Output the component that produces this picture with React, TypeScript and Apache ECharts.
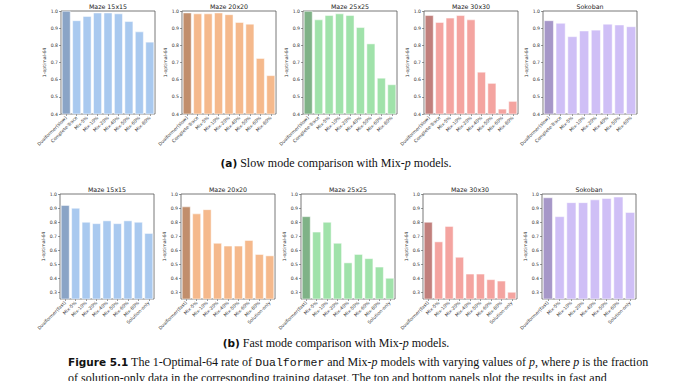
import React, { useEffect, useRef } from "react";
import * as echarts from "echarts";

// ---------- data ----------
const slowMazeCats = ["Dualformer(slow)", "Complete-Trace", "Mix-5%", "Mix-10%", "Mix-20%", "Mix-40%", "Mix-50%", "Mix-60%", "Mix-80%"];
const slowSokoCats = ["Dualformer(slow)", "Complete-Trace", "Mix-5%", "Mix-10%", "Mix-20%", "Mix-40%", "Mix-50%", "Mix-60%"];
const fastMazeCats = ["Dualformer(fast)", "Mix-5%", "Mix-10%", "Mix-20%", "Mix-40%", "Mix-50%", "Mix-60%", "Mix-80%", "Solution-only"];
const fastSokoCats = ["Dualformer(fast)", "Mix-5%", "Mix-10%", "Mix-20%", "Mix-40%", "Mix-50%", "Mix-60%", "Solution-only"];

const slowMaze15 = [1.0, 0.945, 0.97, 0.99, 0.99, 0.985, 0.94, 0.88, 0.82];
const slowMaze20 = [0.99, 0.985, 0.985, 0.99, 0.98, 0.935, 0.925, 0.725, 0.625];
const slowMaze25 = [1.0, 0.95, 0.975, 0.985, 0.975, 0.905, 0.81, 0.61, 0.572];
const slowMaze30 = [0.975, 0.935, 0.96, 0.975, 0.95, 0.645, 0.58, 0.43, 0.475];
const slowSokoban = [0.945, 0.93, 0.852, 0.885, 0.89, 0.925, 0.92, 0.91];

const fastMaze15 = [0.92, 0.9, 0.8, 0.79, 0.81, 0.79, 0.81, 0.8, 0.72];
const fastMaze20 = [0.91, 0.86, 0.89, 0.65, 0.63, 0.63, 0.67, 0.57, 0.56];
const fastMaze25 = [0.84, 0.73, 0.8, 0.65, 0.51, 0.57, 0.54, 0.48, 0.4];
const fastMaze30 = [0.8, 0.66, 0.77, 0.55, 0.43, 0.43, 0.39, 0.38, 0.3];
const fastSokoban = [0.975, 0.84, 0.94, 0.94, 0.96, 0.97, 0.98, 0.87];

const titles = ["Maze 15x15", "Maze 20x20", "Maze 25x25", "Maze 30x30", "Sokoban"];
const slowTicks = [0.4, 0.5, 0.6, 0.7, 0.8, 0.9, 1.0];
const fastTicks = [0.3, 0.4, 0.5, 0.6, 0.7, 0.8, 0.9, 1.0];

// ---------- styling ----------
const barColors = ["#a9c9ef", "#f5b98c", "#a0e2aa", "#f4a4a0", "#cfbff6"];
const firstColors = ["#8aa4c6", "#c18e6c", "#7fb287", "#c17f7c", "#a697c8"];
const topLefts = [61, 182, 303, 424, 543];
const botLefts = [60, 181, 301, 423, 542];
const W = 94;

const App: React.FC = () => {
  const ref = useRef<HTMLDivElement>(null);
  useEffect(() => {
    if (!ref.current) return;
    const chart = echarts.init(ref.current, undefined, { renderer: "svg" });
    const grids: any[] = [];
    const xAxes: any[] = [];
    const yAxes: any[] = [];
    const series: any[] = [];
    const graphics: any[] = [];
    const panels = [
      { cats: slowMazeCats, vals: slowMaze15, row: 0, col: 0 },
      { cats: slowMazeCats, vals: slowMaze20, row: 0, col: 1 },
      { cats: slowMazeCats, vals: slowMaze25, row: 0, col: 2 },
      { cats: slowMazeCats, vals: slowMaze30, row: 0, col: 3 },
      { cats: slowSokoCats, vals: slowSokoban, row: 0, col: 4 },
      { cats: fastMazeCats, vals: fastMaze15, row: 1, col: 0 },
      { cats: fastMazeCats, vals: fastMaze20, row: 1, col: 1 },
      { cats: fastMazeCats, vals: fastMaze25, row: 1, col: 2 },
      { cats: fastMazeCats, vals: fastMaze30, row: 1, col: 3 },
      { cats: fastSokoCats, vals: fastSokoban, row: 1, col: 4 },
    ];
    const font = "DejaVu Sans";
    panels.forEach((p, i) => {
      const left = p.row === 0 ? topLefts[p.col] : botLefts[p.col];
      const top = p.row === 0 ? 11 : 194;
      const height = p.row === 0 ? 103 : 105;
      grids.push({
        left, top, width: W, height,
        show: true, borderColor: "#555", borderWidth: 0.8, backgroundColor: "transparent",
      });
      xAxes.push({
        type: "category", gridIndex: i, data: p.cats,
        axisLine: { show: false },
        axisTick: { show: true, alignWithLabel: true, length: 2, lineStyle: { color: "#555", width: 0.6 } },
        axisLabel: { interval: 0, rotate: 45, fontSize: 4.6, fontFamily: font, color: "#333", margin: 3 },
      });
      const ticks = p.row === 0 ? slowTicks : fastTicks;
      yAxes.push({
        type: "value", gridIndex: i,
        min: p.row === 0 ? 0.4 : 0.25, max: 1.0,
        axisLine: { show: false },
        splitLine: { show: false },
        axisTick: { show: true, length: 2, customValues: ticks, lineStyle: { color: "#555", width: 0.6 } },
        axisLabel: {
          customValues: ticks, fontSize: 4.6, fontFamily: font, color: "#333", margin: 3,
          formatter: (v: number) => v.toFixed(1),
        },
        name: "1-optimal-64", nameLocation: "middle", nameRotate: 90, nameGap: 12,
        nameTextStyle: { fontSize: 4.6, fontFamily: font, color: "#333" },
      });
      const c = barColors[p.col];
      const fc = firstColors[p.col];
      series.push({
        type: "bar", xAxisIndex: i, yAxisIndex: i,
        data: p.vals.map((v, k) => ({ value: v, itemStyle: { color: k === 0 ? fc : c } })),
        barCategoryGap: "18%",
        itemStyle: { borderColor: "#ffffff", borderWidth: 0.5 },
      });
      graphics.push({
        type: "text", x: left + W / 2, y: top - 1.5,
        style: {
          text: titles[p.col], fontSize: 6.3, fontFamily: font, fill: "#222",
          textAlign: "center", textVerticalAlign: "bottom",
        },
      });
    });

    const serif = "Liberation Serif";
    const rich = {
      b: { fontFamily: "DejaVu Sans", fontWeight: "bold", fontSize: 10.5, fill: "#111", color: "#111" },
      i: { fontFamily: serif, fontStyle: "italic", fontSize: 12, color: "#111" },
      m: { fontFamily: "Liberation Mono", fontSize: 11.5, color: "#111" },
    };
    graphics.push({
      type: "text", x: 336, y: 163,
      style: {
        text: "{b|(a)} Slow mode comparison with Mix-{i|p} models.",
        fontFamily: serif, fontSize: 12, fill: "#111",
        textAlign: "center", textVerticalAlign: "middle", rich,
      },
    });
    graphics.push({
      type: "text", x: 336, y: 343,
      style: {
        text: "{b|(b)} Fast mode comparison with Mix-{i|p} models.",
        fontFamily: serif, fontSize: 12, fill: "#111",
        textAlign: "center", textVerticalAlign: "middle", rich,
      },
    });
    graphics.push({
      type: "text", x: 68, y: 362,
      style: {
        text: "{b|Figure 5.1} The 1-Optimal-64 rate of {m|Dualformer} and Mix-{i|p} models with varying values of {i|p}, where {i|p} is the fraction",
        fontFamily: serif, fontSize: 12, fill: "#111",
        textAlign: "left", textVerticalAlign: "middle", rich,
      },
    });
    graphics.push({
      type: "text", x: 68, y: 378,
      style: {
        text: "of solution-only data in the corresponding training dataset. The top and bottom panels plot the results in fast and",
        fontFamily: serif, fontSize: 12, fill: "#111",
        textAlign: "left", textVerticalAlign: "middle",
      },
    });

    chart.setOption({
      animation: false,
      backgroundColor: "#ffffff",
      grid: grids,
      xAxis: xAxes,
      yAxis: yAxes,
      series,
      graphic: graphics,
    });
    return () => chart.dispose();
  }, []);
  return (
    <div
      ref={ref}
      style={{ position: "absolute", left: 0, top: 0, width: 678, height: 381, background: "#fff" }}
    />
  );
};

export default App;
